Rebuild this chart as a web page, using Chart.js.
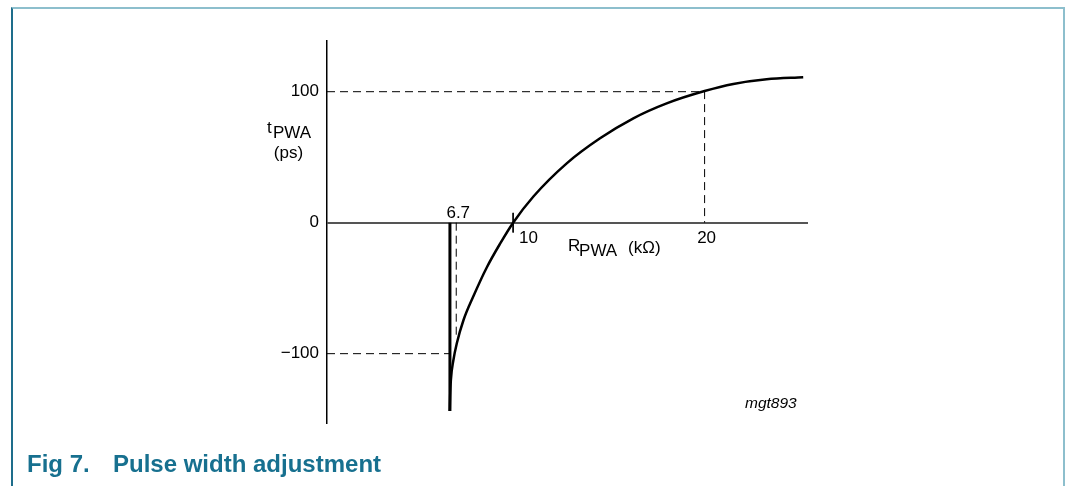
<!DOCTYPE html>
<html>
<head>
<meta charset="utf-8">
<script src="https://cdn.jsdelivr.net/npm/chart.js@4.4.1/dist/chart.umd.min.js"></script>
<style>
  body { margin: 0; background: #fff; font-family: "Liberation Sans", Arial, sans-serif; }
  #frame { position: absolute; left: 11px; top: 7px; width: 1054px; height: 479px; box-sizing: border-box;
           border-top: 2px solid #8dbfcd; border-left: 2px solid #1e6d8b; border-right: 2px solid #8dbfcd; }
  #wrap { position: absolute; left: 0; top: 0; width: 1066px; height: 486px; }
  .cap { position: absolute; top: 450px; font-weight: bold; font-size: 24px; color: #17708f; white-space: nowrap; }
</style>
</head>
<body>
<div id="frame"></div>
<div id="wrap"><canvas id="pwa" width="1066" height="486"></canvas></div>
<div class="cap" style="left:27px">Fig 7.</div>
<div class="cap" style="left:113px">Pulse width adjustment</div>
<script>
// curve: R_PWA (kOhm) vs t_PWA (ps)
const curveR = [6.69, 6.71, 6.75, 6.88, 7.06, 7.41, 7.93, 8.63, 9.32, 10, 11.06, 12.8, 14.54, 16.28, 18.02, 20, 21.5, 23.24, 25.15];
const curveT = [-143.7, -133, -120, -105, -92, -74.3, -56, -34, -16, 0, 20, 45.3, 64.4, 79.7, 91.1, 100.5, 105.9, 109.5, 111];

// guide lines
const asymptoteR = 6.7;
const asymptoteBottom = -143.7;
const markR = 7.03;       // dashed drop under the 6.7 label
const markBottom = -88;
const upperR = 20;
const upperT = 100;
const lowerT = -100;

const yTicks = [-100, 0, 100];
const xMin = 0.28, xMax = 25.4;
const yMin = -152.7, yMax = 138.7;

const FONT = '"Liberation Sans", Arial, sans-serif';
const DASH = [8, 5];

const pts = (xs, ys) => xs.map((v, i) => ({x: v, y: ys[i]}));

const line = (data, extra) => Object.assign({
  data: data,
  borderColor: '#000',
  borderWidth: 1,
  pointRadius: 0,
  tension: 0,
  fill: false
}, extra);

const labelPlugin = {
  id: 'pwaLabels',
  afterDraw(chart) {
    const {ctx, scales: {x, y}} = chart;
    const y0 = y.getPixelForValue(0);
    ctx.save();
    ctx.fillStyle = '#000';
    ctx.textBaseline = 'alphabetic';
    ctx.font = '17px ' + FONT;

    // x tick labels
    ctx.textAlign = 'left';
    ctx.fillText('10', x.getPixelForValue(10) + 6, y0 + 20);
    ctx.textAlign = 'center';
    ctx.fillText('20', x.getPixelForValue(20) + 2, y0 + 20);
    ctx.fillText('6.7', x.getPixelForValue(markR) + 2, y0 - 5);

    // x axis title
    ctx.textAlign = 'left';
    const rx = x.getPixelForValue(10) + 55;
    ctx.fillText('R', rx, y0 + 28);
    ctx.fillText('PWA', rx + 11, y0 + 33);
    ctx.fillText('(k\u03A9)', rx + 60, y0 + 30);

    // y axis title
    const ty = y.getPixelForValue(100);
    ctx.fillText('t', 267, ty + 41);
    ctx.fillText('PWA', 273, ty + 46);
    ctx.textAlign = 'center';
    ctx.fillText('(ps)', 288.5, ty + 66);

    // figure code
    ctx.textAlign = 'left';
    ctx.font = 'italic 15.5px ' + FONT;
    ctx.fillText('mgt893', chart.chartArea.right - 63, chart.chartArea.bottom - 15);
    ctx.restore();
  }
};

new Chart(document.getElementById('pwa'), {
  type: 'line',
  data: {
    datasets: [
      line(pts(curveR, curveT), {borderWidth: 2.5, cubicInterpolationMode: 'monotone'}),
      line([{x: asymptoteR, y: 0}, {x: asymptoteR, y: asymptoteBottom}], {borderWidth: 3}),
      line([{x: xMin, y: upperT}, {x: upperR, y: upperT}, {x: upperR, y: 0}], {borderDash: DASH}),
      line([{x: xMin, y: lowerT}, {x: asymptoteR, y: lowerT}], {borderDash: DASH}),
      line([{x: markR, y: 0}, {x: markR, y: markBottom}], {borderDash: DASH}),
      line([{x: 10, y: 7.5}, {x: 10, y: -7.5}], {})
    ]
  },
  options: {
    responsive: false,
    animation: false,
    devicePixelRatio: 1,
    layout: {padding: {left: 267, right: 258, top: 41, bottom: 63.3}},
    plugins: {legend: {display: false}, tooltip: {enabled: false}},
    scales: {
      x: {type: 'linear', min: xMin, max: xMax, display: false},
      y: {
        type: 'linear',
        min: yMin,
        max: yMax,
        afterFit: s => { s.width = 60; },
        afterBuildTicks: s => { s.ticks = yTicks.map(v => ({value: v})); },
        ticks: {
          color: '#000',
          padding: 8,
          font: {family: FONT, size: 17},
          callback: v => v < 0 ? '\u2212' + Math.abs(v) : String(v)
        },
        grid: {
          drawTicks: false,
          lineWidth: 2,
          color: c => (c.tick && c.tick.value === 0) ? '#555' : 'rgba(0,0,0,0)'
        },
        border: {color: '#000', width: 1.5}
      }
    }
  },
  plugins: [labelPlugin]
});
</script>
</body>
</html>
